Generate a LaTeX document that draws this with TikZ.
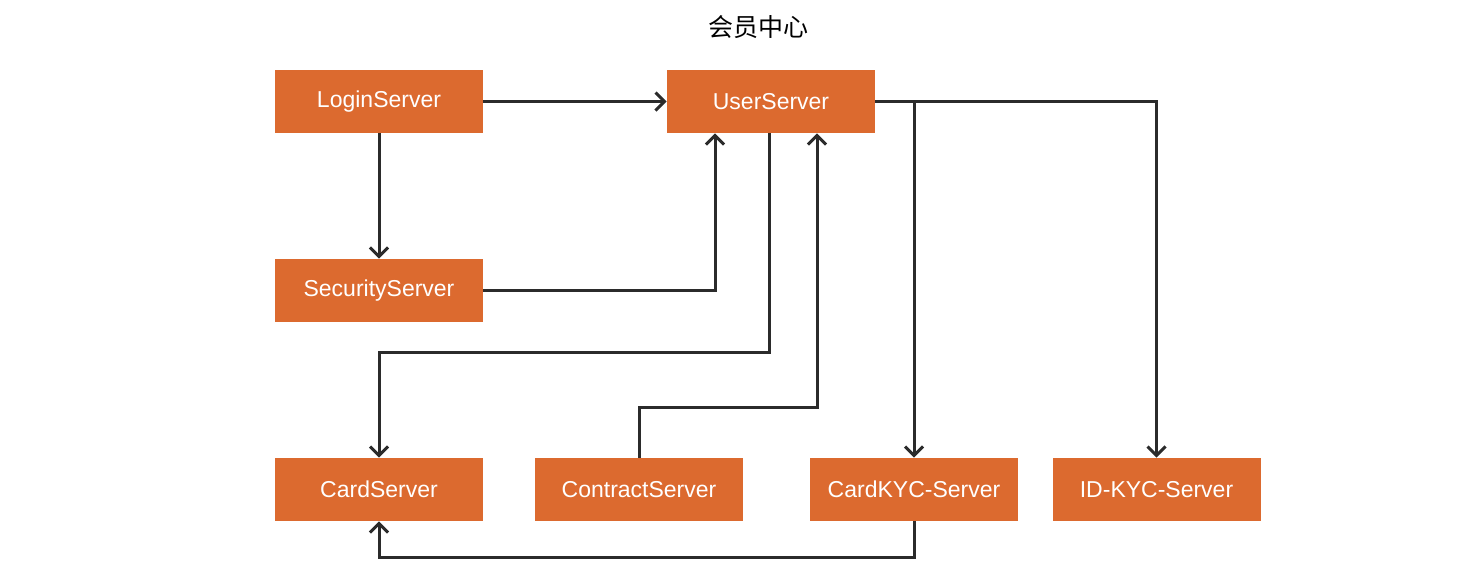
\documentclass[tikz,border=0pt]{standalone}
\usepackage{fontspec}
\setmainfont{Liberation Sans}
\newfontfamily\cjk{Noto Sans CJK SC}
\usepackage{tikz}
\usetikzlibrary{arrows.meta, positioning}
\definecolor{boxorange}{HTML}{DC6A2F}
\definecolor{linegray}{HTML}{2B2B2B}

\begin{document}
\begin{tikzpicture}[x=0.5pt, y=-0.5pt]
   \tikzstyle{server}=[rectangle,fill=boxorange,text=white,minimum width=104pt,minimum height=31.5pt,inner sep=0pt,font=\fontsize{11.5}{13}\selectfont]
   \tikzstyle{link}=[linegray,line width=1.5pt,-{Straight Barb[length=4.5pt,width=9pt,line width=1.5pt]}]
   \useasboundingbox (0,0) rectangle (1460,586);
   \node (title) at (758,27) {\cjk\fontsize{12.5}{14}\selectfont 会员中心};

   \node[server] (login) at (379,101.5) {LoginServer};
   \node[server] (user) at (771,101.5) {UserServer};
   \node[server] (security) at (379,290.5) {SecurityServer};
   \node[server] (card) at (379,489.5) {CardServer};
   \node[server] (contract) at (639,489.5) {ContractServer};
   \node[server] (cardkyc) at (914,489.5) {CardKYC-Server};
   \node[server] (idkyc) at (1156.5,489.5) {ID-KYC-Server};

   \coordinate (j1) at (769,352);
   \coordinate (j2) at (817,407);

   \draw[link] (login) -- (user);
   \draw[link] (login) -- (security);
   \draw[link] (security.east) -| ([xshift=-28pt]user.south);
   \draw[link] ([xshift=-1pt]user.south) -- (j1) -| (card.north);
   \draw[link] (contract.north) |- (j2) -- ([xshift=23pt]user.south);
   \draw[link] (user.east) -| (idkyc.north);
   \draw[link] (user.east -| cardkyc.north) -- (cardkyc.north);
   \draw[link] (cardkyc.south) -- ++(0,36) -| (card.south);
\end{tikzpicture}
\end{document}
